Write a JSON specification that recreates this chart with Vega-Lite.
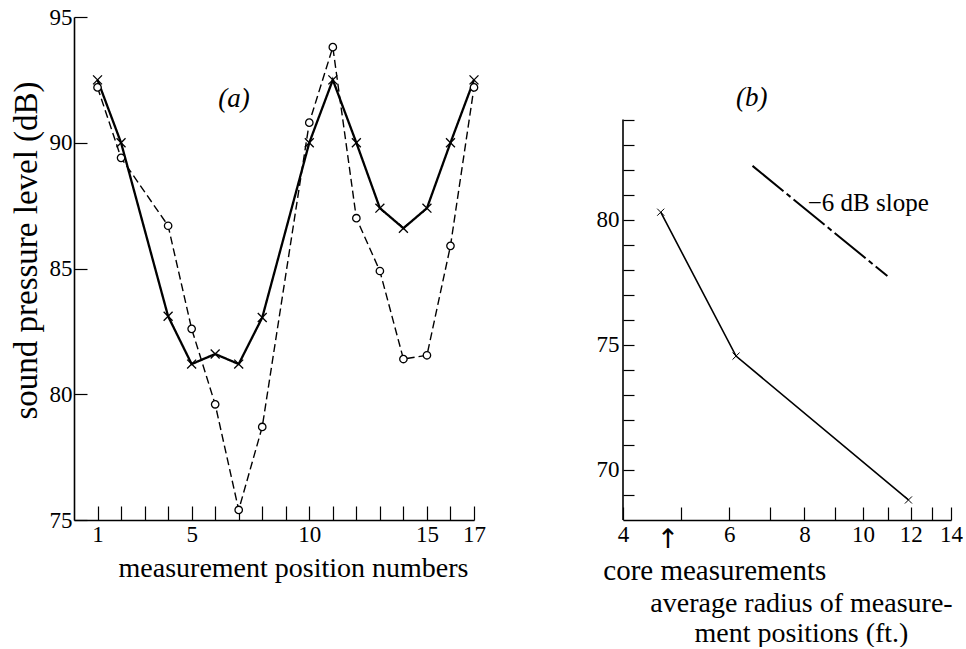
{
  "$schema": "https://vega.github.io/schema/vega-lite/v6.json",
  "background": "white",
  "padding": {"left": 10, "top": 6, "right": 0, "bottom": 0},
  "spacing": 110,
  "config": {
    "view": {"stroke": null},
    "font": "Liberation Serif",
    "axis": {
      "grid": false,
      "domainColor": "black",
      "tickColor": "black",
      "labelColor": "black",
      "titleColor": "black",
      "labelFont": "Liberation Serif",
      "titleFont": "Liberation Serif",
      "titleFontWeight": "normal",
      "domainWidth": 1.6,
      "tickWidth": 1.2
    }
  },
  "datasets": {
    "a": [
      {"pos": 1, "series": "x", "spl": 92.5},
      {"pos": 2, "series": "x", "spl": 90.0},
      {"pos": 4, "series": "x", "spl": 83.1},
      {"pos": 5, "series": "x", "spl": 81.2},
      {"pos": 6, "series": "x", "spl": 81.6},
      {"pos": 7, "series": "x", "spl": 81.2},
      {"pos": 8, "series": "x", "spl": 83.05},
      {"pos": 10, "series": "x", "spl": 90.0},
      {"pos": 11, "series": "x", "spl": 92.5},
      {"pos": 12, "series": "x", "spl": 90.0},
      {"pos": 13, "series": "x", "spl": 87.4},
      {"pos": 14, "series": "x", "spl": 86.6},
      {"pos": 15, "series": "x", "spl": 87.4},
      {"pos": 16, "series": "x", "spl": 90.0},
      {"pos": 17, "series": "x", "spl": 92.5},
      {"pos": 1, "series": "o", "spl": 92.2},
      {"pos": 2, "series": "o", "spl": 89.4},
      {"pos": 4, "series": "o", "spl": 86.7},
      {"pos": 5, "series": "o", "spl": 82.6},
      {"pos": 6, "series": "o", "spl": 79.6},
      {"pos": 7, "series": "o", "spl": 75.4},
      {"pos": 8, "series": "o", "spl": 78.7},
      {"pos": 10, "series": "o", "spl": 90.8},
      {"pos": 11, "series": "o", "spl": 93.8},
      {"pos": 12, "series": "o", "spl": 87.0},
      {"pos": 13, "series": "o", "spl": 84.9},
      {"pos": 14, "series": "o", "spl": 81.4},
      {"pos": 15, "series": "o", "spl": 81.55},
      {"pos": 16, "series": "o", "spl": 85.9},
      {"pos": 17, "series": "o", "spl": 92.2}
    ],
    "bm": [
      {"r": 4.62, "spl": 80.3},
      {"r": 6.16, "spl": 74.55},
      {"r": 11.9, "spl": 68.8}
    ],
    "bs": [
      {"r": 6.56, "spl": 82.15},
      {"r": 10.98, "spl": 77.75}
    ],
    "baxis": [
      {"r": 4, "spl": 68, "spl2": 84}
    ]
  },
  "hconcat": [
    {
      "width": 400,
      "height": 503,
      "encoding": {
        "x": {
          "field": "pos",
          "type": "quantitative",
          "scale": {"domain": [0, 17], "nice": false, "zero": false},
          "axis": {
            "values": [1, 2, 3, 4, 5, 6, 7, 8, 9, 10, 11, 12, 13, 14, 15, 16, 17],
            "labelExpr": "indexof([1, 5, 10, 15, 17], datum.value) >= 0 ? datum.label : ''",
            "tickSize": -14,
            "labelPadding": 17,
            "labelFontSize": 23,
            "labelFlush": false,
            "title": "measurement position numbers",
            "titleFontSize": 28,
            "titlePadding": 8,
            "titleX": 219
          }
        },
        "y": {
          "field": "spl",
          "type": "quantitative",
          "scale": {"domain": [75, 95], "nice": false, "zero": false},
          "axis": {
            "values": [75, 80, 85, 90, 95],
            "tickSize": -13,
            "labelPadding": 15,
            "labelFontSize": 23,
            "labelFlush": false,
            "title": "sound pressure level (dB)",
            "titleFontSize": 33,
            "titlePadding": 6,
            "titleY": 233
          }
        }
      },
      "layer": [
        {
          "data": {"name": "a"},
          "mark": {"type": "line", "color": "black"},
          "encoding": {
            "detail": {"field": "series", "type": "nominal"},
            "strokeDash": {"field": "series", "type": "nominal", "scale": {"domain": ["x", "o"], "range": [[1, 0], [8, 4]]}, "legend": null},
            "strokeWidth": {"field": "series", "type": "ordinal", "scale": {"domain": ["x", "o"], "range": [2.3, 1.4]}, "legend": null}
          }
        },
        {
          "data": {"name": "a"},
          "mark": {"type": "point", "filled": true, "fill": "white", "stroke": "black", "strokeWidth": 1.3, "opacity": 1},
          "encoding": {
            "shape": {"field": "series", "type": "nominal", "scale": {"domain": ["x", "o"], "range": ["M-1,-1L1,1M-1,1L1,-1", "circle"]}, "legend": null},
            "size": {"field": "series", "type": "ordinal", "scale": {"domain": ["x", "o"], "range": [80, 55]}, "legend": null}
          }
        },
        {
          "data": {"values": [{"pos": 6.8, "spl": 91.74, "label": "(a)"}]},
          "mark": {"type": "text", "font": "Liberation Serif", "fontStyle": "italic", "fontSize": 27, "color": "black"},
          "encoding": {"text": {"field": "label"}}
        }
      ]
    },
    {
      "width": 328,
      "height": 503,
      "encoding": {
        "x": {
          "field": "r",
          "type": "quantitative",
          "scale": {"type": "log", "domain": [4, 14], "nice": false},
          "axis": {
            "values": [4, 5, 6, 7, 8, 9, 10, 11, 12, 13, 14],
            "format": "d",
            "labelExpr": "indexof([4, 6, 8, 10, 12, 14], datum.value) >= 0 ? datum.label : ''",
            "tickSize": -13,
            "labelPadding": 16,
            "labelFontSize": 23,
            "labelFlush": false,
            "title": ["average radius of measure-", "ment positions (ft.)"],
            "titleFontSize": 28,
            "titleLineHeight": 30,
            "titlePadding": 43,
            "titleX": 178
          }
        },
        "y": {
          "field": "spl",
          "type": "quantitative",
          "scale": {"domain": [68, 88.1], "nice": false, "zero": false},
          "axis": {
            "values": [69, 70, 71, 72, 73, 74, 75, 76, 77, 78, 79, 80, 81, 82, 83, 84],
            "labelExpr": "indexof([70, 75, 80], datum.value) >= 0 ? datum.label : ''",
            "domain": false,
            "tickSize": -11,
            "labelPadding": 15,
            "labelFontSize": 23,
            "labelFlush": false,
            "title": null
          }
        }
      },
      "layer": [
        {
          "data": {"name": "baxis"},
          "mark": {"type": "rule", "color": "black", "strokeWidth": 1.6},
          "encoding": {"y2": {"field": "spl2"}}
        },
        {
          "data": {"name": "bm"},
          "mark": {"type": "line", "color": "black", "strokeWidth": 1.6},
          "encoding": {}
        },
        {
          "data": {"name": "bm"},
          "mark": {"type": "point", "shape": "M-1,-1L1,1M-1,1L1,-1", "size": 50, "stroke": "black", "strokeWidth": 1, "opacity": 1},
          "encoding": {}
        },
        {
          "data": {"name": "bs"},
          "mark": {"type": "line", "color": "black", "strokeWidth": 2, "strokeDash": [40, 4, 5, 4]},
          "encoding": {}
        },
        {
          "data": {"values": [{"r": 6.54, "spl": 84.88, "label": "(b)"}]},
          "mark": {"type": "text", "font": "Liberation Serif", "fontStyle": "italic", "fontSize": 27, "color": "black"},
          "encoding": {"text": {"field": "label"}}
        },
        {
          "data": {"values": [{"r": 8.1, "spl": 80.68, "label": "−6 dB slope"}]},
          "mark": {"type": "text", "font": "Liberation Serif", "fontSize": 25, "align": "left", "color": "black"},
          "encoding": {"text": {"field": "label"}}
        },
        {
          "data": {"values": [{"r": 4.75, "spl": 68, "label": "↑"}]},
          "mark": {"type": "text", "font": "DejaVu Sans", "fontSize": 27, "dy": 20, "baseline": "middle", "color": "black", "clip": false},
          "encoding": {"text": {"field": "label"}}
        },
        {
          "data": {"values": [{"r": 5.68, "spl": 68, "label": "core measurements"}]},
          "mark": {"type": "text", "font": "Liberation Serif", "fontSize": 29, "dy": 51, "baseline": "middle", "color": "black", "clip": false},
          "encoding": {"text": {"field": "label"}}
        }
      ]
    }
  ]
}
